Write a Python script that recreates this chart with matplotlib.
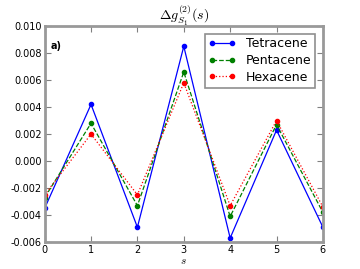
import matplotlib
matplotlib.use("Agg")
import matplotlib.pyplot as plt
import matplotlib.ticker as mticker

s = [0, 1, 2, 3, 4, 5, 6]
tetracene = [-0.0035, 0.0042, -0.0049, 0.0085, -0.0057, 0.0023, -0.0049]
pentacene = [-0.0027, 0.0028, -0.0033, 0.0066, -0.0041, 0.0027, -0.0038]
hexacene = [-0.0025, 0.0020, -0.0025, 0.0058, -0.0033, 0.0030, -0.0034]
yticks = [-0.006, -0.004, -0.002, 0.000, 0.002, 0.004, 0.006, 0.008, 0.010]

plt.rcParams['mathtext.fontset'] = 'cm'
fig = plt.figure(figsize=(3.6, 2.69), dpi=100)
ax = fig.add_axes([0.124, 0.100, 0.773, 0.803])

ax.plot(s, tetracene, '-', color='b', marker='o', ms=3, mec='b', lw=0.9, label='Tetracene')
ax.plot(s, pentacene, '--', color='g', marker='o', ms=3, mec='g', lw=0.9, label='Pentacene')
ax.plot(s, hexacene, ':', color='r', marker='o', ms=3, mec='r', lw=0.9, label='Hexacene')

ax.set_xlim(0, 6)
ax.set_ylim(-0.006, 0.010)
ax.set_xticks(s)
ax.set_yticks(yticks)
ax.yaxis.set_major_formatter(mticker.FormatStrFormatter('%.3f'))
ax.tick_params(direction='in', top=True, right=True, labelsize=7, length=4, width=0.8, color='0.5', pad=2)
for sp in ax.spines.values():
    sp.set_color('0.6')
    sp.set_linewidth(2)

ax.set_xlabel('$s$', fontsize=8, labelpad=1)
ax.set_title(r'$\Delta g^{(2)}_{S_1}(s)$', fontsize=10, pad=4)
ax.text(0.02, 0.93, 'a)', transform=ax.transAxes, fontsize=7, fontweight='bold', va='top')

leg = ax.legend(loc='upper right', numpoints=2, fontsize=9, fancybox=False,
                borderpad=0.3, labelspacing=0.3, handlelength=2.2, handletextpad=0.8,
                borderaxespad=0.6)
leg.get_frame().set_edgecolor('0.45')
leg.get_frame().set_linewidth(1.2)

fig.savefig('out.png', dpi=100)
